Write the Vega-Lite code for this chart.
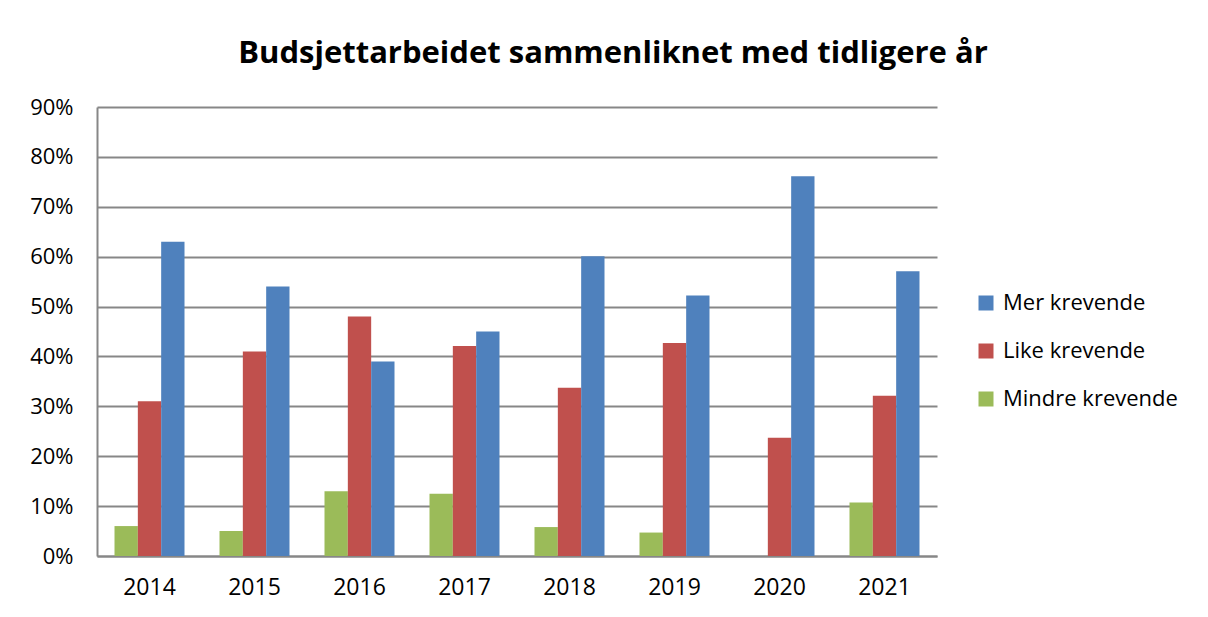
{
  "$schema": "https://vega.github.io/schema/vega-lite/v6.json",
  "autosize": {"type": "none"},
  "padding": {"left": 97, "top": 107, "right": 271, "bottom": 61},
  "width": 840,
  "height": 449,
  "background": "white",
  "title": {
    "text": "Budsjettarbeidet sammenliknet med tidligere år",
    "font": "Open Sans",
    "fontSize": 31,
    "fontWeight": "bold",
    "color": "#000000",
    "anchor": "middle",
    "dx": 96,
    "offset": 26
  },
  "data": {
    "values": [
      {"year": "2014", "series": "Mindre krevende", "value": 0.06},
      {"year": "2014", "series": "Like krevende", "value": 0.31},
      {"year": "2014", "series": "Mer krevende", "value": 0.63},
      {"year": "2015", "series": "Mindre krevende", "value": 0.05},
      {"year": "2015", "series": "Like krevende", "value": 0.41},
      {"year": "2015", "series": "Mer krevende", "value": 0.54},
      {"year": "2016", "series": "Mindre krevende", "value": 0.13},
      {"year": "2016", "series": "Like krevende", "value": 0.48},
      {"year": "2016", "series": "Mer krevende", "value": 0.39},
      {"year": "2017", "series": "Mindre krevende", "value": 0.125},
      {"year": "2017", "series": "Like krevende", "value": 0.421},
      {"year": "2017", "series": "Mer krevende", "value": 0.45},
      {"year": "2018", "series": "Mindre krevende", "value": 0.058},
      {"year": "2018", "series": "Like krevende", "value": 0.337},
      {"year": "2018", "series": "Mer krevende", "value": 0.601},
      {"year": "2019", "series": "Mindre krevende", "value": 0.047},
      {"year": "2019", "series": "Like krevende", "value": 0.427},
      {"year": "2019", "series": "Mer krevende", "value": 0.522},
      {"year": "2020", "series": "Mindre krevende", "value": 0},
      {"year": "2020", "series": "Like krevende", "value": 0.237},
      {"year": "2020", "series": "Mer krevende", "value": 0.761},
      {"year": "2021", "series": "Mindre krevende", "value": 0.107},
      {"year": "2021", "series": "Like krevende", "value": 0.321},
      {"year": "2021", "series": "Mer krevende", "value": 0.571}
    ]
  },
  "mark": {"type": "bar"},
  "encoding": {
    "x": {
      "field": "year",
      "type": "nominal",
      "title": null,
      "scale": {"paddingInner": 0.3333, "paddingOuter": 0.1667},
      "axis": {
        "labelAngle": 0,
        "labelFont": "Open Sans",
        "labelFontSize": 23,
        "labelColor": "#000000",
        "labelPadding": 20,
        "ticks": false,
        "domainColor": "#878787",
        "domainWidth": 2
      }
    },
    "xOffset": {
      "field": "series",
      "type": "nominal",
      "sort": ["Mindre krevende", "Like krevende", "Mer krevende"],
      "scale": {"paddingInner": 0, "paddingOuter": 0}
    },
    "y": {
      "field": "value",
      "type": "quantitative",
      "title": null,
      "scale": {"domain": [0, 0.9], "nice": false},
      "axis": {
        "format": ".0%",
        "values": [0, 0.1, 0.2, 0.3, 0.4, 0.5, 0.6, 0.7, 0.8, 0.9],
        "labelFont": "Open Sans",
        "labelFontSize": 22,
        "labelColor": "#000000",
        "labelPadding": 24,
        "ticks": false,
        "grid": true,
        "gridColor": "#878787",
        "gridWidth": 2,
        "domainColor": "#878787",
        "domainWidth": 2
      }
    },
    "color": {
      "field": "series",
      "type": "nominal",
      "scale": {
        "domain": ["Mer krevende", "Like krevende", "Mindre krevende"],
        "range": ["#4F81BD", "#C0504D", "#9BBB59"]
      },
      "legend": {
        "title": null,
        "orient": "none",
        "legendX": 878,
        "legendY": 185,
        "symbolType": "square",
        "symbolSize": 225,
        "symbolStrokeWidth": 0,
        "labelFont": "Open Sans",
        "labelFontSize": 22,
        "labelColor": "#000000",
        "labelOffset": 6,
        "labelLimit": 400,
        "rowPadding": 26
      }
    }
  },
  "config": {
    "view": {"stroke": null}
  }
}
